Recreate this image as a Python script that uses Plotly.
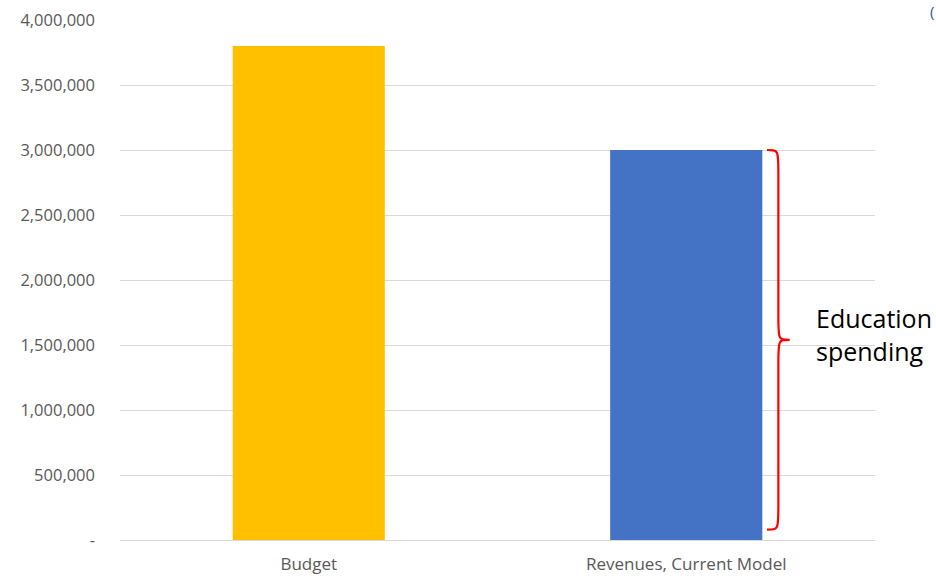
import plotly.graph_objects as go

categories = ["Budget", "Revenues, Current Model"]
values = [3800000, 3000000]
bar_colors = ["#FFC000", "#4472C4"]
tick_vals = [0, 500000, 1000000, 1500000, 2000000, 2500000, 3000000, 3500000, 4000000]
tick_text = ["-", "500,000", "1,000,000", "1,500,000", "2,000,000", "2,500,000",
             "3,000,000", "3,500,000", "4,000,000"]
brace_label = "Education<br>spending"

FONT = "Open Sans, sans-serif"

fig = go.Figure()
fig.add_trace(go.Bar(x=categories, y=values, marker=dict(color=bar_colors, line=dict(width=0)),
                     width=0.403, showlegend=False, hoverinfo="skip"))

# curly brace spanning the revenue bar (from its top down to near zero)
top = values[1]
bot = 80000
mid = (top + bot) / 2
x0, x1, x2 = 0.857, 0.872, 0.887
q = (top - bot) * 0.02
path = (f"M {x0},{top} C {x1},{top} {x1},{top} {x1},{top - 3*q} "
        f"L {x1},{mid + 3*q} C {x1},{mid} {x1},{mid} {x2},{mid} "
        f"C {x1},{mid} {x1},{mid} {x1},{mid - 3*q} "
        f"L {x1},{bot + 3*q} C {x1},{bot} {x1},{bot} {x0},{bot}")
fig.add_shape(type="path", path=path, xref="paper", yref="y",
              line=dict(color="#FF0000", width=2.2))

fig.add_annotation(x=0.919, xref="paper", y=mid, yref="y", yshift=5, text=brace_label,
                   showarrow=False, xanchor="left", yanchor="middle", align="left",
                   font=dict(family=FONT, size=25, color="#000000"))
fig.add_annotation(x=1.0805, xref="paper", y=1.0, yref="paper", yshift=21, text="(",
                   showarrow=False, xanchor="right", yanchor="top",
                   font=dict(family=FONT, size=15, color="#2F5597"))

fig.update_layout(
    width=936, height=576,
    margin=dict(l=120, r=61, t=20, b=36, autoexpand=False),
    paper_bgcolor="white", plot_bgcolor="white",
    bargap=0.6,
    font=dict(family=FONT, size=16, color="#595959"),
    xaxis=dict(showgrid=False, showline=False, ticks="", ticklabelstandoff=12,
               automargin=False, tickfont=dict(size=17, color="#595959")),
    yaxis=dict(range=[0, 4000000], tickvals=tick_vals, ticktext=tick_text,
               showgrid=True, gridcolor="#D9D9D9", gridwidth=1, zeroline=True,
               zerolinecolor="#D9D9D9", zerolinewidth=1, showline=False,
               ticks="", ticklabelstandoff=24, automargin=False,
               tickfont=dict(size=16.5, color="#595959")),
)

fig.write_html("out.html")
